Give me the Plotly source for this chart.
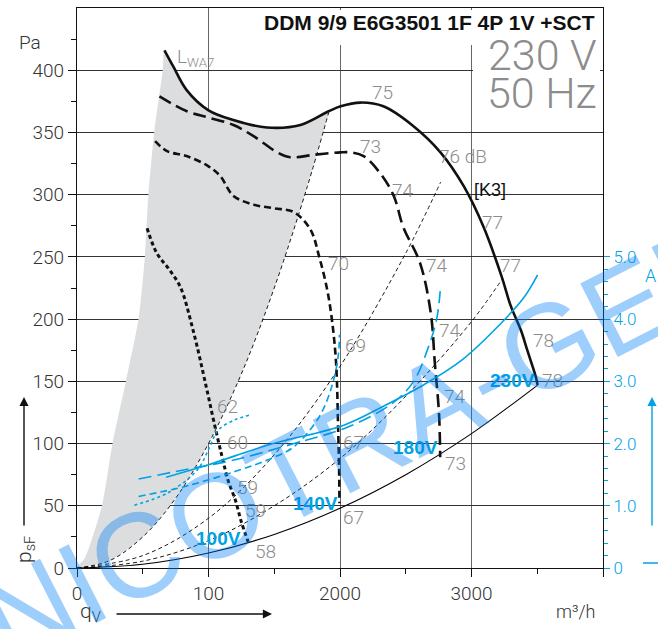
import plotly.graph_objects as go

# ---------------- data ----------------
# fan curves, static pressure psF [Pa] vs air volume qV [m3/h]
q_230 = [665, 732, 834, 997, 1189, 1444, 1699, 1914, 2005, 2155, 2330, 2559, 2764, 2940, 3092, 3230, 3297, 3376, 3424, 3488, 3503]
p_230 = [416, 403, 384, 368, 360, 354, 356, 367, 371, 374, 371, 355, 334, 307, 274, 234, 211, 191, 175, 154, 147]

q_180 = [627, 836, 997, 1190, 1343, 1523, 1622, 1800, 2003, 2079, 2180, 2307, 2409, 2481, 2609, 2690, 2721, 2753, 2762]
p_180 = [379, 367, 362, 356, 347, 334, 330, 332, 334, 334, 331, 317, 299, 274, 245, 205, 165, 124, 89]

q_140 = [594, 685, 834, 997, 1089, 1190, 1343, 1500, 1648, 1775, 1842, 1900, 1938, 1970, 1986, 1993, 1996]
p_140 = [343, 335, 331, 323, 315, 299, 292, 289, 286, 272, 250, 225, 200, 165, 111, 80, 52]

q_100 = [533, 607, 700, 785, 883, 982, 1040, 1104, 1150, 1203, 1250, 1302]
p_100 = [273, 253, 240, 226, 191, 146, 118, 89, 70, 55, 37, 21]

# system (resistance) curves
q_sysA = [0, 250, 500, 750, 1000, 1250, 1500, 1750, 1914]
p_sysA = [0, 6, 25, 56, 100, 156, 225, 306, 366]
q_sysB = [0, 500, 1000, 1500, 2000, 2500, 2765]
p_sysB = [0, 10, 40, 91, 162, 253, 310]
q_sysC = [0, 500, 1000, 1500, 2000, 2500, 3000, 3232]
p_sysC = [0, 5.5, 22, 50, 88, 138, 198, 232]
q_sysD = [0, 500, 1000, 1500, 2000, 2500, 3000, 3503]
p_sysD = [0, 3, 12, 27, 48, 75, 108, 147]

# shaded L_WA7 region, left edge
q_shade_left = [0, 60, 190, 270, 372, 468, 516, 543, 587, 652, 665]
p_shade_left = [0, 8, 50, 100, 150, 200, 250, 300, 350, 400, 416]

# current curves [A]
q_i230 = [678, 1000, 1459, 2034, 2330, 2641, 2931, 3232, 3400, 3503]
i_230 = [1.46, 1.66, 1.98, 2.30, 2.60, 2.95, 3.35, 3.95, 4.35, 4.71]
q_i180 = [468, 820, 1203, 1650, 2065, 2400, 2560, 2672, 2735, 2762]
i_180 = [1.43, 1.58, 1.74, 2.00, 2.27, 2.65, 3.00, 3.55, 4.00, 4.45]
q_i140 = [468, 820, 1200, 1500, 1650, 1842, 1938, 1986, 1996]
i_140 = [1.15, 1.31, 1.55, 1.78, 1.95, 2.43, 2.92, 3.40, 3.75]
q_i100 = [436, 693, 916, 1010, 1075, 1200, 1316]
i_100 = [1.01, 1.21, 1.58, 1.95, 2.22, 2.38, 2.46]

# sound power labels (dB) along the curves
db_text = ["75", "73", "76 dB", "74", "77", "70", "74", "77", "69", "74", "78", "78", "74", "67", "73", "67",
           "62", "60", "59", "59", "58"]
db_q = [2322, 2231, 2932, 2482, 3160, 1987, 2734, 3297, 2117, 2840, 3548, 3617, 2878, 2102, 2878, 2102,
        1142, 1218, 1294, 1355, 1432]
db_p = [382, 338.6, 330.6, 303, 278, 244.5, 243, 243, 179, 191, 183, 151, 137.5, 100.5, 83.6, 40.2,
        129.5, 100.5, 64.3, 46.6, 12.9]

volt_text = ["230V", "180V", "140V", "100V"]
volt_q = [3312, 2574, 1812, 1074]
volt_p = [151, 97, 52, 24]

x_ticks = [0, 1000, 2000, 3000, 4000]
x_ticklabels = ["0", "100", "2000", "3000", ""]
y_ticks = [0, 50, 100, 150, 200, 250, 300, 350, 400]
a_ticks = [0, 1, 2, 3, 4, 5]
a_ticklabels = ["0", "1.0", "2.0", "3.0", "4.0", "5.0"]

# ---------------- figure ----------------
CYAN = "#00a2e3"
GREY = "#8c8c8c"
FONT = "Roboto, Liberation Sans, Arial, sans-serif"


def px_x(px):
    return (px - 77) / 526


def px_y(py):
    return (568 - py) / 560


fig = go.Figure()

# shaded region: left edge up, along 230V curve, down along steepest system curve
sh_q = q_shade_left + [q for q in q_230 if 665 < q <= 1914] + q_sysA[::-1]
sh_p = p_shade_left + [p for q, p in zip(q_230, p_230) if 665 < q <= 1914] + p_sysA[::-1]
fig.add_trace(go.Scatter(x=sh_q, y=sh_p, mode="lines", fill="toself", fillcolor="#dcdddf",
                         line=dict(width=0, shape="spline", smoothing=0.6), hoverinfo="skip", showlegend=False))

for qq, pp in [(q_sysA, p_sysA), (q_sysB, p_sysB), (q_sysC, p_sysC)]:
    fig.add_trace(go.Scatter(x=qq, y=pp, mode="lines", line=dict(color="black", width=0.9, dash="4px,3px", shape="spline"),
                             showlegend=False))
fig.add_trace(go.Scatter(x=q_sysD, y=p_sysD, mode="lines", line=dict(color="black", width=1.1, shape="spline"),
                         showlegend=False))

fig.add_trace(go.Scatter(x=q_230, y=p_230, mode="lines", line=dict(color="#111", width=2.6, shape="spline"), showlegend=False))
fig.add_trace(go.Scatter(x=q_180, y=p_180, mode="lines", line=dict(color="#111", width=2.6, dash="13px,6px", shape="spline"), showlegend=False))
fig.add_trace(go.Scatter(x=q_140, y=p_140, mode="lines", line=dict(color="#111", width=2.6, dash="7px,4px", shape="spline"), showlegend=False))
fig.add_trace(go.Scatter(x=q_100, y=p_100, mode="lines", line=dict(color="#111", width=3, dash="4px,3px", shape="spline"), showlegend=False))

# current curves on right axis
fig.add_trace(go.Scatter(x=q_i230, y=i_230, yaxis="y2", mode="lines", line=dict(color=CYAN, width=1.6, shape="spline"), showlegend=False))
fig.add_trace(go.Scatter(x=q_i180, y=i_180, yaxis="y2", mode="lines", line=dict(color=CYAN, width=1.6, dash="13px,6px", shape="spline"), showlegend=False))
fig.add_trace(go.Scatter(x=q_i140, y=i_140, yaxis="y2", mode="lines", line=dict(color=CYAN, width=1.6, dash="7px,4px", shape="spline"), showlegend=False))
fig.add_trace(go.Scatter(x=q_i100, y=i_100, yaxis="y2", mode="lines", line=dict(color=CYAN, width=1.6, dash="3px,3px", shape="spline"), showlegend=False))

ann = []
for t, q, p in zip(db_text, db_q, db_p):
    ann.append(dict(x=q, y=p, xref="x", yref="y", text=t, showarrow=False,
                    font=dict(family=FONT, size=19, color=GREY, weight=300)))
for t, q, p in zip(volt_text, volt_q, volt_p):
    ann.append(dict(x=q, y=p, xref="x", yref="y", text=t, showarrow=False,
                    font=dict(family="Liberation Sans, Arial, sans-serif", size=19, color=CYAN, weight="bold")))
ann.append(dict(x=3140, y=304, xref="x", yref="y", text="[K3]", showarrow=False,
                font=dict(family="Liberation Sans Narrow, Liberation Sans, sans-serif", size=18, color="#111")))
ann.append(dict(x=742, y=410, xref="x", yref="y", text="L<sub>WA7</sub>", showarrow=False, xanchor="left",
                font=dict(family=FONT, size=19, color=GREY, weight=300)))

# title block
ann.append(dict(x=px_x(597), y=px_y(22), xref="paper", yref="paper", xanchor="right", yanchor="middle",
                text="DDM 9/9 E6G3501 1F 4P 1V +SCT", showarrow=False,
                font=dict(family="Liberation Sans, Arial, sans-serif", size=21, color="#111", weight="bold")))
ann.append(dict(x=px_x(599), y=px_y(55), xref="paper", yref="paper", xanchor="right", yanchor="middle",
                text="230 V", showarrow=False, font=dict(family=FONT, size=43, color=GREY, weight=300)))
ann.append(dict(x=px_x(599), y=px_y(93), xref="paper", yref="paper", xanchor="right", yanchor="middle",
                text="50 Hz", showarrow=False, font=dict(family=FONT, size=43, color=GREY, weight=300)))

# axis names
ann.append(dict(x=px_x(30), y=px_y(42), xref="paper", yref="paper", xanchor="center", yanchor="middle",
                text="Pa", showarrow=False, font=dict(family=FONT, size=19, color="#333", weight=300)))
ann.append(dict(x=px_x(598), y=px_y(611), xref="paper", yref="paper", xanchor="right", yanchor="middle",
                text="m³/h", showarrow=False, font=dict(family=FONT, size=18, color="#333", weight=300)))
ann.append(dict(x=px_x(25), y=px_y(550), xref="paper", yref="paper", xanchor="center", yanchor="middle",
                text="p<sub>sF</sub>", textangle=-90, showarrow=False,
                font=dict(family=FONT, size=21, color="#333", weight=300)))
ann.append(dict(x=px_x(90), y=px_y(612), xref="paper", yref="paper", xanchor="center", yanchor="middle",
                text="q<sub>V</sub>", showarrow=False, font=dict(family=FONT, size=21, color="#333", weight=300)))
ann.append(dict(x=px_x(643), y=px_y(275), xref="paper", yref="paper", xanchor="left", yanchor="middle",
                text="A", showarrow=False, font=dict(family=FONT, size=18, color=CYAN, weight=300)))
# arrows
ann.append(dict(x=px_x(24), y=px_y(397), xref="paper", yref="paper", ax=0, ay=130, text="", showarrow=True,
                arrowhead=2, arrowsize=1.3, arrowwidth=1.4, arrowcolor="#111"))
ann.append(dict(x=px_x(272), y=px_y(614), xref="paper", yref="paper", ax=-157, ay=0, text="", showarrow=True,
                arrowhead=2, arrowsize=1.3, arrowwidth=1.4, arrowcolor="#111"))
ann.append(dict(x=px_x(652), y=px_y(397), xref="paper", yref="paper", ax=0, ay=130, text="", showarrow=True,
                arrowhead=2, arrowsize=1.3, arrowwidth=1.4, arrowcolor=CYAN))

# watermark
ann.append(dict(x=px_x(545), y=px_y(347), xref="paper", yref="paper", xanchor="center", yanchor="middle",
                text="NICOTRA-GEBHARDT", showarrow=False, textangle=-27,
                font=dict(family="Liberation Sans, Arial, sans-serif", size=120, color="rgba(0,125,245,0.38)")))

shapes = [
    dict(type="rect", xref="paper", yref="paper", x0=px_x(255), x1=px_x(600),
         y0=px_y(45), y1=px_y(10), fillcolor="white", line=dict(width=0), layer="above"),
    dict(type="rect", xref="paper", yref="paper", x0=px_x(473), x1=px_x(600),
         y0=px_y(112), y1=px_y(30), fillcolor="white", line=dict(width=0), layer="above"),
    dict(type="line", xref="paper", yref="paper", x0=px_x(643), x1=px_x(658),
         y0=px_y(563), y1=px_y(563), line=dict(color=CYAN, width=1.5)),
]

fig.update_layout(
    width=658, height=629, margin=dict(l=77, r=55, t=8, b=61),
    paper_bgcolor="white", plot_bgcolor="white", showlegend=False,
    annotations=ann, shapes=shapes,
    xaxis=dict(range=[0, 4000], tickvals=x_ticks, ticktext=x_ticklabels, ticks="outside", ticklen=8,
               tickcolor="#111", showgrid=True, gridcolor="#666", gridwidth=1.2, zeroline=False,
               showline=True, linecolor="#111", linewidth=1.2, mirror=True,
               minor=dict(tickvals=[500, 1500, 2500, 3500], ticks="outside", ticklen=5, tickcolor="#111"),
               tickfont=dict(family=FONT, size=19, color="#333", weight=300)),
    yaxis=dict(range=[0, 450], tickvals=y_ticks, ticks="outside", ticklen=8, tickcolor="#111",
               showgrid=True, gridcolor="#333", gridwidth=1.2, zeroline=False,
               showline=True, linecolor="#111", linewidth=1.2, mirror=True,
               minor=dict(tickvals=[25, 75, 125, 175, 225, 275, 325, 375, 425], ticks="outside", ticklen=5, tickcolor="#111"),
               tickfont=dict(family=FONT, size=19, color="#333", weight=300)),
    yaxis2=dict(range=[0, 9], overlaying="y", side="right", tickvals=a_ticks, ticktext=a_ticklabels,
                ticks="outside", ticklen=6, tickcolor=CYAN, showgrid=False, zeroline=False, showline=False,
                minor=dict(tickvals=[0.2, 0.4, 0.6, 0.8, 1.2, 1.4, 1.6, 1.8, 2.2, 2.4, 2.6, 2.8, 3.2, 3.4, 3.6, 3.8,
                                     4.2, 4.4, 4.6, 4.8], ticks="outside", ticklen=4, tickcolor=CYAN),
                tickfont=dict(family=FONT, size=17, color=CYAN, weight=300)),
)

fig.write_html("out.html", config={"displayModeBar": False},
               post_script="document.body.style.margin='0';")
